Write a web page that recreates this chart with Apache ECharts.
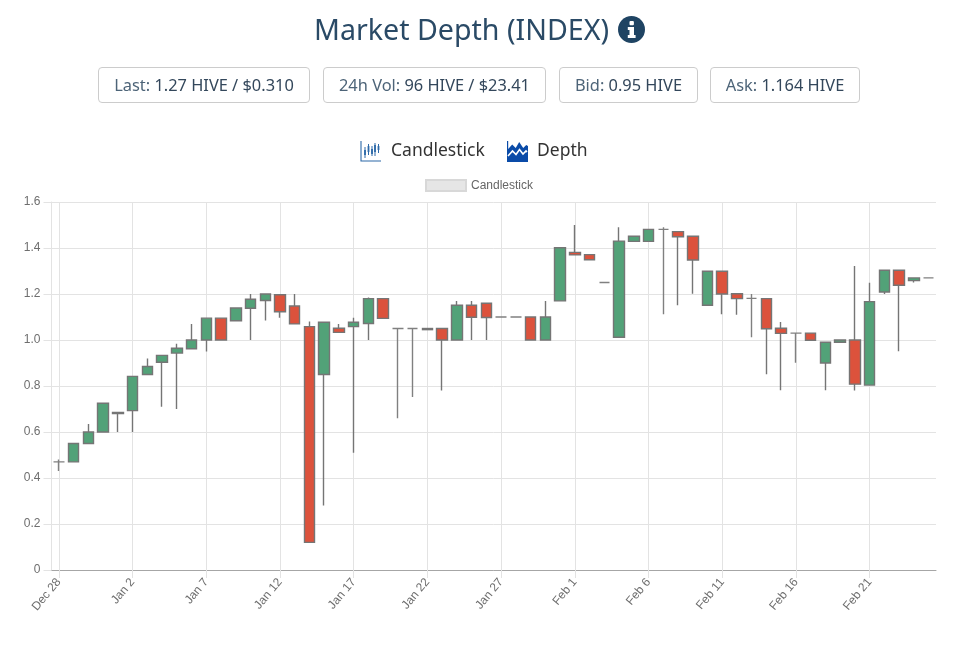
<!DOCTYPE html>
<html>
<head>
<meta charset="utf-8">
<script src="https://cdn.jsdelivr.net/npm/echarts@6/dist/echarts.min.js"></script>
<style>
html,body{margin:0;padding:0;background:#fff;width:972px;height:651px;overflow:hidden;font-family:"Noto Sans",sans-serif}
#chart{position:absolute;left:0;top:0;width:972px;height:651px}
.t{position:absolute;white-space:nowrap}
#title{left:314px;top:8px;font-size:28.6px;line-height:42px;color:#2a4a66}
.box{position:absolute;top:67px;height:36px;box-sizing:border-box;border:1px solid #ccc;border-radius:4px;font-size:16.4px;line-height:34px;text-align:center;color:#33475b;white-space:nowrap}
.box span{color:#4d6478}
.tab{position:absolute;top:137px;font-size:17.5px;line-height:24px;color:#333;white-space:nowrap}
svg{position:absolute}
</style>
</head>
<body>
<div id="chart"></div>
<div class="t" id="title">Market Depth (INDEX)</div>
<svg style="left:618px;top:16px" width="27" height="27" viewBox="0 0 27 27"><circle cx="13.5" cy="13.5" r="13.5" fill="#1f4463"/><rect x="11.5" y="5" width="4.4" height="4.2" rx="1" fill="#fff"/><path d="M9.8 11h6.2v8h1.6v3H9.8v-3h1.7v-5H9.8z" fill="#fff"/></svg>
<div class="box" style="left:98px;width:212px"><span>Last:</span> 1.27 HIVE / $0.310</div>
<div class="box" style="left:323px;width:223px"><span>24h Vol:</span> 96 HIVE / $23.41</div>
<div class="box" style="left:559px;width:139px"><span>Bid:</span> 0.95 HIVE</div>
<div class="box" style="left:710px;width:150px"><span>Ask:</span> 1.164 HIVE</div>
<svg style="left:360px;top:141px" width="22" height="21" viewBox="0 0 22 21"><g stroke="#2d69a8" fill="none"><path d="M1 0v20h20" stroke-width="1.1"/><path d="M5 6v11M8.500 3v11M12 5v10M15 2v13M18.500 3v9" stroke-width="1"/><path d="M5 9v5M8.500 5v6M12 8v5M15 4v7M18.500 5v4" stroke-width="1.800"/></g></svg>
<svg style="left:507px;top:141px" width="21" height="21" viewBox="0 0 21 21"><path d="M0 0h1.200v8l4-4.500 3.500 3.500 3.500-6 4 6 3-3 1.800 1v16H0z" fill="#0a4ba8"/><path d="M1 15l4.500-5 3.500 3.500 3.500-5 3.500 4.500 3-3 1 1" fill="none" stroke="#fff" stroke-width="1.600"/></svg>
<div class="tab" style="left:391px">Candlestick</div>
<div class="tab" style="left:537px">Depth</div>
<script>
const dates = ["Dec 28","Dec 29","Dec 30","Dec 31","Jan 1","Jan 2","Jan 3","Jan 4","Jan 5","Jan 6","Jan 7","Jan 8","Jan 9","Jan 10","Jan 11","Jan 12","Jan 13","Jan 14","Jan 15","Jan 16","Jan 17","Jan 18","Jan 19","Jan 20","Jan 21","Jan 22","Jan 23","Jan 24","Jan 25","Jan 26","Jan 27","Jan 28","Jan 29","Jan 30","Jan 31","Feb 1","Feb 2","Feb 3","Feb 4","Feb 5","Feb 6","Feb 7","Feb 8","Feb 9","Feb 10","Feb 11","Feb 12","Feb 13","Feb 14","Feb 15","Feb 16","Feb 17","Feb 18","Feb 19","Feb 20","Feb 21","Feb 22","Feb 23","Feb 24","Feb 25"];
const opens  = [0.47,0.47,0.55,0.60,0.68,0.693,0.85,0.903,0.943,0.962,1.00,1.095,1.084,1.138,1.172,1.197,1.148,1.058,0.85,1.051,1.058,1.072,1.18,1.05,1.05,1.045,1.05,1.00,1.151,1.16,1.10,1.10,1.10,1.00,1.17,1.381,1.371,1.25,1.012,1.429,1.429,1.481,1.471,1.451,1.151,1.299,1.201,1.181,1.18,1.051,1.03,1.03,0.90,0.99,1.00,0.804,1.209,1.303,1.258,1.27];
const closes = [0.47,0.55,0.60,0.725,0.685,0.842,0.885,0.933,0.964,1.00,1.095,1.00,1.139,1.177,1.20,1.123,1.07,0.12,1.077,1.033,1.077,1.18,1.094,1.05,1.05,1.05,1.00,1.151,1.099,1.098,1.10,1.10,1.00,1.10,1.401,1.37,1.349,1.25,1.43,1.451,1.481,1.481,1.449,1.348,1.299,1.20,1.18,1.181,1.049,1.029,1.03,0.999,0.99,1.00,0.808,1.167,1.303,1.238,1.27,1.27];
const lows   = [0.43,0.47,0.55,0.60,0.60,0.60,0.85,0.71,0.70,0.962,0.95,1.00,1.084,1.00,1.085,1.097,1.07,0.12,0.28,1.033,0.51,1.00,1.094,0.66,0.752,1.045,0.78,1.00,1.00,1.00,1.10,1.10,1.00,1.00,1.17,1.37,1.349,1.25,1.012,1.429,1.429,1.112,1.151,1.201,1.151,1.112,1.11,1.012,0.851,0.781,0.901,0.999,0.781,0.99,0.78,0.804,1.20,0.951,1.25,1.27];
const highs  = [0.48,0.55,0.635,0.725,0.685,0.842,0.92,0.933,0.984,1.07,1.095,1.095,1.139,1.20,1.20,1.197,1.20,1.08,1.08,1.07,1.097,1.185,1.18,1.05,1.05,1.05,1.05,1.17,1.17,1.16,1.10,1.10,1.10,1.17,1.401,1.50,1.371,1.25,1.49,1.451,1.481,1.49,1.471,1.451,1.299,1.299,1.201,1.20,1.18,1.078,1.03,1.03,0.99,1.00,1.322,1.249,1.303,1.303,1.27,1.27];
const yTicks = {min:0,max:1.6,step:0.2};
const seriesName = "Candlestick";

const candles = dates.map((d,i)=>[opens[i],closes[i],lows[i],highs[i]]);
const chart = echarts.init(document.getElementById('chart'),null,{renderer:'canvas'});
const grid = '#e3e3e3';
chart.setOption({
  animation:false,
  legend:{
    top:179,left:425,
    data:[{name:seriesName,icon:'rect',itemStyle:{color:'#e6e6e6',borderColor:'#d8d8d8',borderWidth:2}}],
    padding:0,
    itemWidth:40,itemHeight:11,itemGap:6,
    textStyle:{color:'#666',fontSize:12,fontFamily:'"Liberation Sans",Arial,sans-serif'}
  },
  grid:{left:51.5,right:36,top:202,bottom:81,containLabel:false},
  xAxis:{
    type:'category',data:dates,boundaryGap:true,
    axisLine:{lineStyle:{color:'#a6a6a6',width:1}},
    axisTick:{show:true,alignWithLabel:true,interval:4,length:8,lineStyle:{color:grid}},
    splitLine:{show:true,alignWithLabel:true,interval:4,lineStyle:{color:grid,width:1}},
    axisLabel:{interval:4,rotate:50,color:'#6e6e6e',fontSize:12,margin:10,fontFamily:'"Liberation Sans",Arial,sans-serif'}
  },
  yAxis:{
    type:'value',min:yTicks.min,max:yTicks.max,interval:yTicks.step,
    axisLine:{show:true,lineStyle:{color:grid}},
    axisTick:{show:true,length:8,lineStyle:{color:grid}},
    splitLine:{show:true,lineStyle:{color:grid}},
    axisLabel:{color:'#6e6e6e',fontSize:12,margin:11,fontFamily:'"Liberation Sans",Arial,sans-serif',
      formatter:v=>v===0?'0':v.toFixed(1)}
  },
  series:[{
    type:'candlestick',name:seriesName,data:candles,barWidth:11,
    itemStyle:{color:'#52a278',color0:'#dc523c',borderColor:'#757575',borderColor0:'#757575',borderColorDoji:'#808080',borderWidth:1.4}
  }]
});
</script>
</body>
</html>
